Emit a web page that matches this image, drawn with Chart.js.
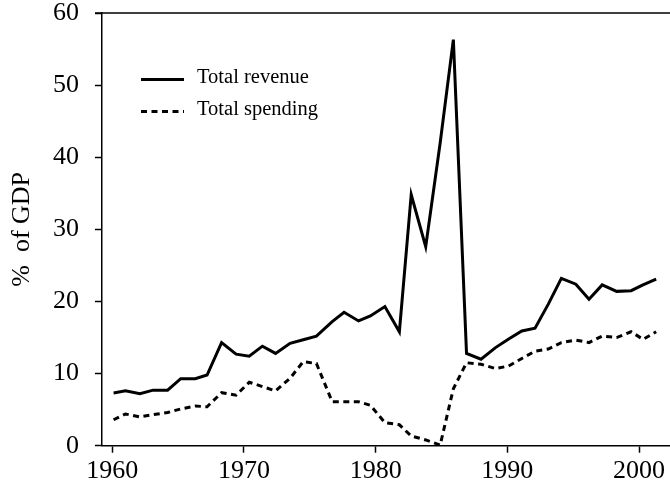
<!DOCTYPE html>
<html>
<head>
<meta charset="utf-8">
<script src="https://cdn.jsdelivr.net/npm/chart.js@4"></script>
<style>
  html, body { margin: 0; padding: 0; background: #fff; }
  #wrap { width: 670px; height: 491px; }
</style>
</head>
<body>
<div id="wrap"><canvas id="chart"></canvas></div>
<script>
const yearPos = [1960.1, 1961.0, 1962.1, 1963.1, 1964.2, 1965.2, 1966.3, 1967.2, 1968.3, 1969.4,
                 1970.4, 1971.4, 1972.4, 1973.5, 1974.5, 1975.5, 1976.7, 1977.6, 1978.7, 1979.6,
                 1980.7, 1981.8, 1982.7, 1983.8, 1984.9, 1985.9, 1986.9, 1988.0, 1989.1, 1990.1,
                 1991.1, 1992.1, 1993.1, 1994.1, 1995.2, 1996.2, 1997.2, 1998.3, 1999.4, 2000.3, 2001.3];
const revenue = [7.3, 7.6, 7.2, 7.7, 7.7, 9.3, 9.3, 9.8, 14.3, 12.7,
                 12.4, 13.8, 12.8, 14.2, 14.7, 15.2, 17.2, 18.5, 17.3, 18.0,
                 19.3, 15.8, 34.8, 27.6, 42.0, 56.3, 12.8, 12.0, 13.6, 14.8,
                 15.9, 16.3, 19.6, 23.2, 22.4, 20.3, 22.3, 21.4, 21.5, 22.3, 23.1];
const spending = [3.6, 4.4, 4.0, 4.3, 4.6, 5.1, 5.5, 5.4, 7.35, 7.0,
                  8.8, 8.2, 7.6, 9.35, 11.65, 11.4, 6.1, 6.1, 6.1, 5.6,
                  3.2, 2.9, 1.35, 0.8, 0.1, 7.9, 11.5, 11.3, 10.7, 11.05,
                  12.1, 13.1, 13.4, 14.3, 14.65, 14.3, 15.2, 15.0, 15.8, 14.75, 15.8];
const seriesNames = ['Total revenue', 'Total spending'];
const xTicks = [1960, 1970, 1980, 1990, 2000];
const yTicks = [0, 10, 20, 30, 40, 50, 60];
const yTitle = '%  of GDP';

const serif = '"Liberation Serif", "Times New Roman", serif';

function toPoints(values) {
    return values.map((v, i) => ({ x: yearPos[i], y: v }));
}

// top frame line + legend drawn inside the plot
const frameAndLegend = {
    id: 'frameAndLegend',
    afterDraw(chart) {
        const ctx = chart.ctx;
        const area = chart.chartArea;
        ctx.save();
        ctx.strokeStyle = '#000';
        ctx.lineWidth = 1.5;
        ctx.beginPath();
        ctx.moveTo(area.left - 7, area.top);
        ctx.lineTo(area.right, area.top);
        ctx.stroke();

        const rows = [79.5, 111.5];
        chart.data.datasets.forEach((ds, i) => {
            const y = rows[i];
            ctx.lineWidth = ds.borderWidth;
            ctx.setLineDash(ds.borderDash || []);
            ctx.beginPath();
            ctx.moveTo(141, y);
            ctx.lineTo(184, y);
            ctx.stroke();
            ctx.setLineDash([]);
            ctx.fillStyle = '#000';
            ctx.font = '20.5px ' + serif;
            ctx.textBaseline = 'middle';
            ctx.textAlign = 'left';
            ctx.fillText(ds.label, 197, y - 2);
        });
        ctx.restore();
    }
};

new Chart(document.getElementById('chart'), {
    type: 'line',
    data: {
        datasets: [
            { label: seriesNames[0], data: toPoints(revenue), borderColor: '#000', borderWidth: 3, pointRadius: 0, tension: 0, fill: false },
            { label: seriesNames[1], data: toPoints(spending), borderColor: '#000', borderWidth: 3, borderDash: [6, 4.5], pointRadius: 0, tension: 0, fill: false }
        ]
    },
    options: {
        responsive: true,
        maintainAspectRatio: false,
        animation: false,
        layout: { padding: { top: 13, right: 0, left: 0, bottom: 0 } },
        plugins: {
            legend: { display: false },
            tooltip: { enabled: false }
        },
        scales: {
            x: {
                type: 'linear',
                min: 1959.22,
                max: 2002.35,
                afterBuildTicks: axis => { axis.ticks = xTicks.map(v => ({ value: v })); },
                afterFit: axis => { axis.height = 45.3; axis.paddingLeft = 0; axis.paddingRight = 0; },
                grid: { drawOnChartArea: false, drawTicks: true, tickLength: 7, tickWidth: 1.5, tickColor: '#000' },
                border: { display: true, color: '#000', width: 1.5 },
                ticks: { color: '#000', padding: 3, maxRotation: 0, font: { family: serif, size: 26 }, callback: v => String(v) }
            },
            y: {
                min: 0,
                max: 60,
                afterBuildTicks: axis => { axis.ticks = yTicks.map(v => ({ value: v })); },
                afterFit: axis => { axis.width = 102; axis.paddingTop = 0; axis.paddingBottom = 0; },
                grid: { drawOnChartArea: false, drawTicks: true, tickLength: 7, tickWidth: 1.5, tickColor: '#000' },
                border: { display: true, color: '#000', width: 1.5 },
                ticks: { color: '#000', padding: 16, font: { family: serif, size: 26 } },
                title: { display: true, text: yTitle, color: '#000', padding: { top: 7, bottom: 0 }, font: { family: serif, size: 26 } }
            }
        }
    },
    plugins: [frameAndLegend]
});
</script>
</body>
</html>
